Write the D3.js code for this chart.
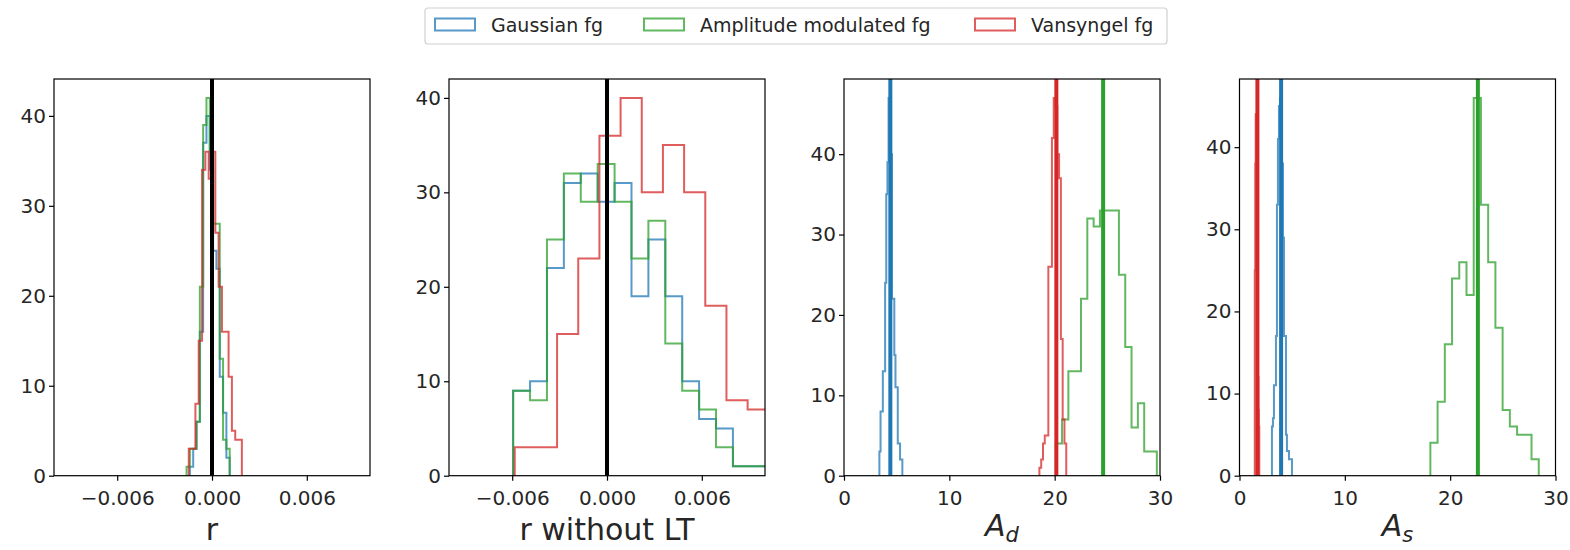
<!DOCTYPE html>
<html lang="en">
<head>
<meta charset="utf-8">
<script src="https://d3js.org/d3.v7.min.js"></script>
<style>
body { margin: 0; background: #fff; }
text { font-family: "DejaVu Sans", sans-serif; fill: #262626; }
</style>
</head>
<body>
<script>
var width = 1570, height = 550;

// series (legend order)
var seriesNames = ["Gaussian fg", "Amplitude modulated fg", "Vansyngel fg"];
var seriesColors = ["#1f77b4", "#2ca02c", "#d62728"];

// panel 1: r  -> first bin edge, bin width, counts for [gaussian, amplitude, vansyngel]
var rStart = [-0.00140, -0.00161, -0.00147];
var rWidth = [0.00021, 0.00021, 0.00021];
var rCounts = [
  [1, 3, 6, 16, 37, 40, 34, 25, 23, 11, 7, 2],
  [1, 3, 3, 6, 21, 39, 42, 36, 28, 28, 13, 4, 3],
  [3, 3, 8, 15, 34, 36, 33, 36, 27, 21, 16, 16, 11, 5, 4, 4]
];
var rLines = [0];

// panel 2: r without LT
var rltStart = [-0.00594, -0.00594, -0.00584];
var rltWidth = [0.00107, 0.00107, 0.00134];
var rltCounts = [
  [9, 10, 22, 31, 32, 29, 31, 19, 25, 19, 10, 6, 5, 1, 1],
  [9, 8, 25, 32, 29, 33, 29, 23, 27, 14, 9, 7, 3, 1, 1],
  [3, 3, 15, 23, 36, 40, 30, 35, 30, 18, 8, 7]
];
var rltLines = [0];

// panel 3: A_d
var adStart = [3.36, 20.1, 18.55];
var adWidth = [0.109, 0.6, 0.17];
var adCounts = [
  [3, 8, 8, 13, 13, 24, 35, 39, 47, 44, 40, 22, 22, 15, 11, 11, 4, 4, 2, 2],
  [4, 7, 13, 13, 22, 32, 31, 33, 33, 33, 25, 16, 6, 9, 3, 3],
  [1, 2, 4, 5, 5, 26, 26, 42, 47, 46, 40, 37, 17, 7, 4]
];
var adLines = [4.4, 24.6, 20.16];

// panel 4: A_s
var asStart = [3.08, 18.12, 1.45];
var asWidth = [0.095, 0.686, 0.043];
var asCounts = [
  [6, 7, 11, 11, 17, 33, 41, 45, 46, 44, 38, 29, 17, 17, 5, 3, 3, 2, 2, 2],
  [4, 9, 16, 24, 26, 22, 46, 33, 26, 18, 8, 6, 5, 5, 2],
  [25, 38, 44, 40, 33, 26, 18, 12, 8, 6]
];
var asLines = [3.95, 22.63, 1.7];

var xLabels = ["r", "r without LT", "A|d", "A|s"];
var xDomains = [[-0.01, 0.01], [-0.01, 0.01], [0, 30], [0, 30]];
var xTicks = [[-0.006, 0, 0.006], [-0.006, 0, 0.006], [0, 10, 20, 30], [0, 10, 20, 30]];
var yTicks = [0, 10, 20, 30, 40];

var starts = [rStart, rltStart, adStart, asStart];
var widths = [rWidth, rltWidth, adWidth, asWidth];
var counts = [rCounts, rltCounts, adCounts, asCounts];
var lines = [rLines, rltLines, adLines, asLines];

var svg = d3.select('body').append('svg').attr('width', width).attr('height', height);

var panelLeft = [54, 449, 844, 1239.5], panelW = 316, plotTop = 79, plotBottom = 475.7;

function stepPoints(s, w, c) {
  var pts = [[s, 0]];
  c.forEach(function(v, i) {
    pts.push([s + i * w, v]);
    pts.push([s + (i + 1) * w, v]);
  });
  pts.push([s + c.length * w, 0]);
  return pts;
}

panelLeft.forEach(function(left, p) {
  var x = d3.scaleLinear().domain(xDomains[p]).range([left, left + panelW]);
  var ymax = d3.max(counts[p], function(c) { return d3.max(c); }) * 1.05;
  var y = d3.scaleLinear().domain([0, ymax]).range([plotBottom, plotTop]);

  var g = svg.append('g');
  g.append('clipPath').attr('id', 'clip' + p)
    .append('rect').attr('x', left).attr('y', plotTop).attr('width', panelW).attr('height', plotBottom - plotTop);
  var plot = g.append('g').attr('clip-path', 'url(#clip' + p + ')');

  var line = d3.line().x(function(d) { return x(d[0]); }).y(function(d) { return y(d[1]); });

  counts[p].forEach(function(c, s) {
    plot.append('path')
      .attr('d', line(stepPoints(starts[p][s], widths[p][s], c)))
      .attr('fill', 'none')
      .attr('stroke', seriesColors[s])
      .attr('stroke-opacity', 0.75)
      .attr('stroke-width', 2);
  });

  lines[p].forEach(function(v, i) {
    plot.append('line')
      .attr('x1', x(v)).attr('x2', x(v)).attr('y1', plotBottom).attr('y2', plotTop)
      .attr('stroke', p < 2 ? '#000' : seriesColors[i])
      .attr('stroke-width', 4);
  });

  // frame
  g.append('rect').attr('x', left).attr('y', plotTop).attr('width', panelW).attr('height', plotBottom - plotTop)
    .attr('fill', 'none').attr('stroke', '#000').attr('stroke-width', 1.2);

  var fmt = p < 2 ? d3.format('.3f') : d3.format('d');
  var xa = g.append('g').attr('transform', 'translate(0,' + plotBottom + ')')
    .call(d3.axisBottom(x).tickValues(xTicks[p]).tickFormat(fmt).tickSize(5).tickPadding(10).tickSizeOuter(0));
  var ya = g.append('g').attr('transform', 'translate(' + left + ',0)')
    .call(d3.axisLeft(y).tickValues(yTicks).tickSize(5).tickPadding(3).tickSizeOuter(0));
  [xa, ya].forEach(function(a) {
    a.select('.domain').remove();
    a.selectAll('.tick line').attr('stroke', '#000').attr('stroke-width', 1.2);
    a.selectAll('.tick text').attr('font-size', 20).attr('font-family', 'DejaVu Sans').attr('fill', '#262626');
  });

  var lab = xLabels[p].split('|');
  var t = g.append('text').attr('x', left + panelW / 2).attr('y', lab.length === 1 ? 540 : 536)
    .attr('text-anchor', 'middle').attr('font-size', 30);
  if (lab.length === 1) {
    t.text(lab[0]);
  } else {
    t.append('tspan').attr('font-style', 'italic').text(lab[0]);
    t.append('tspan').attr('font-style', 'italic').attr('font-size', 21).attr('dy', 6).text(lab[1]);
  }
});

// legend
var leg = svg.append('g');
leg.append('rect').attr('x', 425).attr('y', 8).attr('width', 742).attr('height', 36).attr('rx', 3)
  .attr('fill', '#fff').attr('stroke', '#d0d0d0').attr('stroke-width', 1.2);
var legX = [435, 644, 975];
seriesNames.forEach(function(name, i) {
  leg.append('rect').attr('x', legX[i]).attr('y', 18.5).attr('width', 40).attr('height', 12)
    .attr('fill', 'none').attr('stroke', seriesColors[i]).attr('stroke-opacity', 0.75).attr('stroke-width', 2);
  leg.append('text').attr('x', legX[i] + 56).attr('y', 32).attr('font-size', 19).text(name);
});
</script>
</body>
</html>
